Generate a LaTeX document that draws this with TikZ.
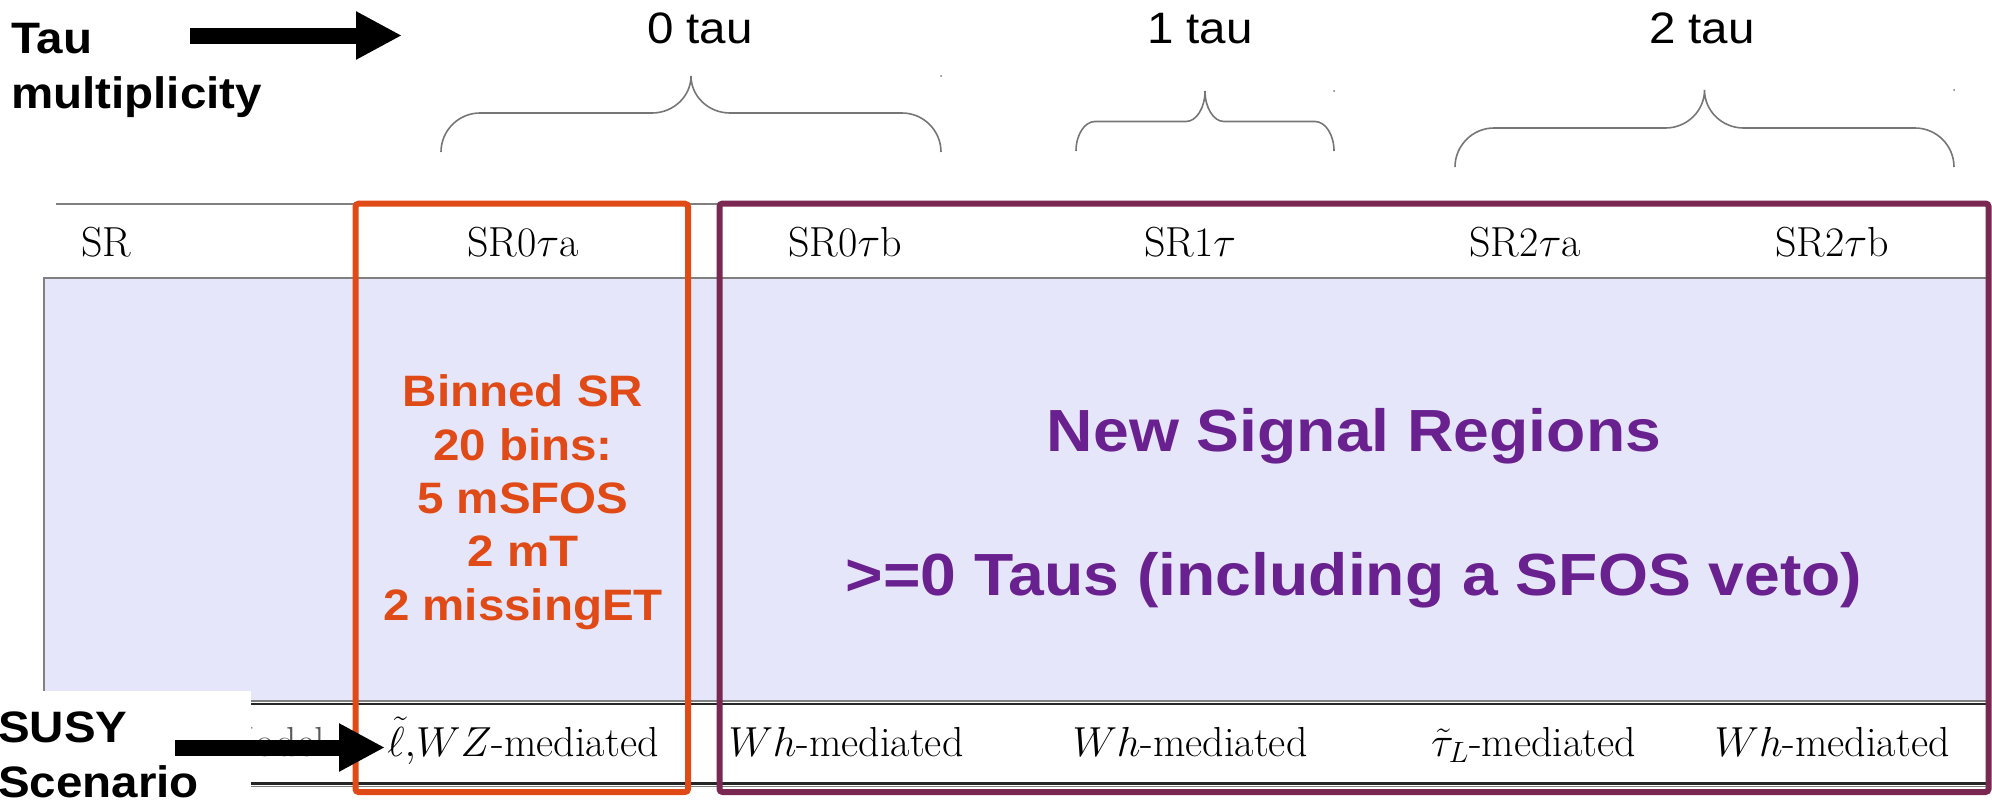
\documentclass[tikz,border=0pt]{standalone}
\usepackage{fix-cm}
\usepackage[no-math]{fontspec}
\usetikzlibrary{arrows.meta}
\newfontfamily\labelsans[FakeStretch=1.08]{Liberation Sans}
\definecolor{boxorange}{RGB}{224,74,22}
\definecolor{boxpurple}{RGB}{122,40,82}
\definecolor{textpurple}{RGB}{106,33,144}
\definecolor{bandfill}{RGB}{230,230,251}
\definecolor{rulegray}{RGB}{128,128,128}
\definecolor{bracegray}{RGB}{118,118,118}

% curly brace opening downwards: left x, right x, foot y, bar y, tip y, corner width
\newcommand{\tbrace}[6]{%
  \draw[bracestyle] (#1,#3)
    .. controls (#1,{#3-0.55*(#3-#4)}) and ({#1+0.45*#6},#4) .. ({#1+#6},#4)
    -- ({(#1+#2)/2-#6},#4)
    .. controls ({(#1+#2)/2-0.45*#6},#4) and ({(#1+#2)/2},{#5+0.55*(#4-#5)}) .. ({(#1+#2)/2},#5)
    .. controls ({(#1+#2)/2},{#5+0.55*(#4-#5)}) and ({(#1+#2)/2+0.45*#6},#4) .. ({(#1+#2)/2+#6},#4)
    -- ({#2-#6},#4)
    .. controls ({#2-0.45*#6},#4) and (#2,{#3-0.55*(#3-#4)}) .. (#2,#3);}

\begin{document}
\begin{tikzpicture}[x=1pt,y=-1pt,
  cell/.style={font=\fontsize{42}{50}\selectfont, anchor=base, inner sep=0pt},
  sidelabel/.style={font=\labelsans\bfseries\fontsize{44}{54.5}\selectfont, align=left, anchor=base west, inner sep=0pt},
  countlabel/.style={font=\labelsans\fontsize{44}{52}\selectfont, anchor=base, inner sep=0pt},
  binnote/.style={font=\labelsans\bfseries\fontsize{44}{53.3}\selectfont, text=boxorange, align=center, anchor=base, inner sep=0pt},
  newnote/.style={font=\labelsans\bfseries\fontsize{59.5}{70}\selectfont, text=textpurple, anchor=base, inner sep=0pt},
  bracestyle/.style={draw=bracegray, line width=1.6pt},
  bigarrow/.style={line width=16pt, -{Triangle[length=46pt,width=45pt]}},
  framebox/.style={line width=6pt, rounded corners=3pt}]

\useasboundingbox (0,0) rectangle (1992,803);

% table rules and light band
\draw[rulegray, line width=1.2pt] (56,204) -- (1986,204);
\filldraw[fill=bandfill, draw=rulegray, line width=1.5pt] (44,278) rectangle (1988,701);
\draw[black!85, line width=2.5pt] (56,704) -- (1986,704);
\draw[black!85, line width=3pt] (56,783) -- (1986,783);
\draw[rulegray, line width=1pt] (56,786.5) -- (1986,786.5);

% header row
\node[cell, anchor=base west] (hSR) at (81,256) {SR};
\node[cell] (h0a) at (523,256) {SR0$\tau$a};
\node[cell] (h0b) at (845,256) {SR0$\tau$b};
\node[cell] (h1)  at (1190,256) {SR1$\tau$};
\node[cell] (h2a) at (1525,256) {SR2$\tau$a};
\node[cell] (h2b) at (1832,256) {SR2$\tau$b};

% model row
\node[cell, anchor=base east, text=black!65] (mdl) at (325,756) {Model};
\node[cell] (m0a) at (523,756) {$\tilde{\ell}{,}WZ$-mediated};
\node[cell] (m0b) at (846,756) {$Wh$-mediated};
\node[cell] (m1)  at (1190,756) {$Wh$-mediated};
\node[cell, anchor=base east] (m2a) at (1636,756) {$\tilde{\tau}_L$-mediated};
\node[cell] (m2b) at (1832,756) {$Wh$-mediated};

% notes inside the band (anchored on the baseline of the last line)
\node[binnote] (binned) at (523,620) {Binned SR\\20 bins:\\5 mSFOS\\2 mT\\2 missingET};
\node[newnote] (newsr) at (1354,451.7) {New Signal Regions};
\node[newnote] (taus)  at (1354,595) {>=0 Taus (including a SFOS veto)};

% tau-count braces
\tbrace{441}{941}{152}{113}{76}{39}
\tbrace{1076}{1334}{151}{121.5}{91}{19}
\tbrace{1455}{1954}{167}{128}{90}{39}
\fill[bracegray] (941,76) circle (1pt) (1334,91) circle (1pt) (1954,90) circle (1pt);
\node[countlabel] (c0) at (700,43.5) {0 tau};
\node[countlabel] (c1) at (1200,43.5) {1 tau};
\node[countlabel] (c2) at (1702,43.5) {2 tau};

% highlight frames
\draw[framebox, boxorange] (355.5,203.7) rectangle (688,792);
\draw[framebox, boxpurple] (719.5,203.5) rectangle (1988.5,792);

% side labels with arrows
\fill[white] (-1,691) rectangle (250.5,804);
\node[sidelabel] (taulbl) at (11,108) {Tau\\multiplicity};
\node[sidelabel] (susylbl) at (-2,797) {SUSY\\Scenario};
\coordinate (ta0) at (190,35.5);
\coordinate (ta1) at (402,35.5);
\coordinate (sa0) at (175,747.5);
\coordinate (sa1) at (385,747.5);
\draw[bigarrow] (ta0) -- (ta1);
\draw[bigarrow] (sa0) -- (sa1);
\end{tikzpicture}
\end{document}
